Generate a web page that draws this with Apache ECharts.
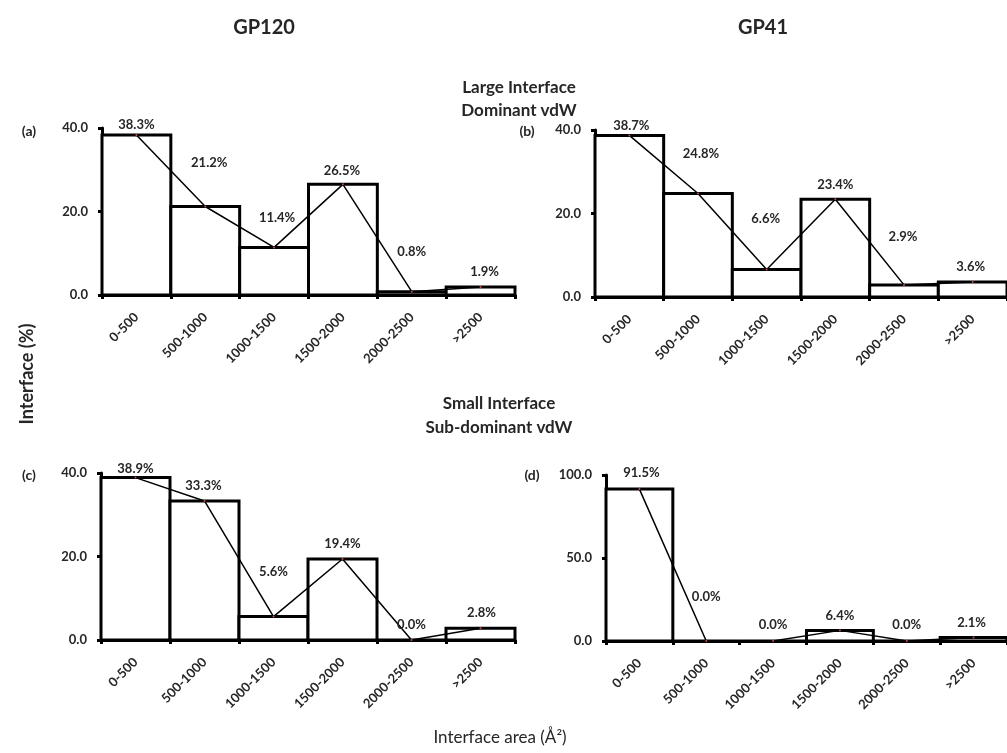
<!DOCTYPE html>
<html>
<head>
<meta charset="utf-8">
<script src="https://cdn.jsdelivr.net/npm/echarts@6/dist/echarts.min.js"></script>
<style>
  html, body { margin: 0; padding: 0; background: #fff; }
  #chart { width: 1007px; height: 753px; }
</style>
</head>
<body>
<div id="chart"></div>
<script>
// Interface area bins (Å²)
const categories = ['0-500', '500-1000', '1000-1500', '1500-2000', '2000-2500', '>2500'];

// Share of interfaces (%) in each bin
const gp120Large = [38.3, 21.2, 11.4, 26.5, 0.8, 1.9];
const gp41Large  = [38.7, 24.8, 6.6, 23.4, 2.9, 3.6];
const gp120Small = [38.9, 33.3, 5.6, 19.4, 0.0, 2.8];
const gp41Small  = [91.5, 0.0, 0.0, 6.4, 0.0, 2.1];

// Value axis ranges
const yMaxPct   = [40, 40, 40, 100];
const yStepPct  = [20, 20, 20, 50];

const panelTags = ['(a)', '(b)', '(c)', '(d)'];
const columnTitles = ['GP120', 'GP41'];
const rowTitles = [['Large Interface', 'Dominant vdW'], ['Small Interface', 'Sub-dominant vdW']];
const yTitle = 'Interface (%)';
const xTitle = 'Interface area (Å²)';

// ---- layout ----
const FONT = 'Lato, "Open Sans", sans-serif';
const TEXT = '#262626';
const grids = [
  { left: 102, top: 128, width: 413, height: 167 },
  { left: 595, top: 130, width: 414, height: 167 },
  { left: 101, top: 473, width: 414, height: 167 },
  { left: 606, top: 475, width: 403, height: 166 }
];
// label nudges (px) from each line point
const labelNudge = [
  [[0, -10], [4, -44], [3, -30], [-1, -14], [0, -40], [4, -15]],
  [[2, -10], [3, -40], [-1, -51], [0, -14], [-1, -48], [-2, -15]],
  [[0, -9], [-1, -15], [0, -45], [0, -15], [0, -15], [1, -15]],
  [[2, -16], [0, -44], [0, -16], [0, -15], [0, -16], [-2, -15]]
];

const panels = [gp120Large, gp41Large, gp120Small, gp41Small];

const chart = echarts.init(document.getElementById('chart'), null, { renderer: 'canvas' });

// Histogram column: full-width box whose outline is centred on the bin edges,
// so neighbouring columns share one border.
function renderColumn(params, api) {
  const idx = api.value(0);
  const val = api.value(1);
  const top = api.coord([idx, val]);
  const base = api.coord([idx, 0]);
  const w = api.size([1, 0])[0];
  return {
    type: 'rect',
    shape: { x: top[0] - w / 2, y: top[1], width: w, height: base[1] - top[1] },
    style: { fill: '#fff', stroke: '#000', lineWidth: 3 }
  };
}

const xAxes = [], yAxes = [], series = [];
panels.forEach((vals, i) => {
  xAxes.push({
    type: 'category', gridIndex: i, data: categories,
    axisLine: { lineStyle: { color: '#000', width: 3 } },
    axisTick: { show: true, alignWithLabel: false, length: 4, lineStyle: { color: '#000', width: 3 } },
    axisLabel: { rotate: 45, margin: 20, color: TEXT, fontFamily: FONT, fontWeight: 'bold', fontSize: 13, interval: 0 }
  });
  yAxes.push({
    type: 'value', gridIndex: i, min: 0, max: yMaxPct[i], interval: yStepPct[i],
    axisLine: { show: true, lineStyle: { color: '#000', width: 3 } },
    axisTick: { show: true, length: 4, lineStyle: { color: '#000', width: 3 } },
    splitLine: { show: false },
    axisLabel: { margin: 14, color: TEXT, fontFamily: FONT, fontWeight: 'bold', fontSize: 13,
                 formatter: v => v.toFixed(1) }
  });
  series.push({
    type: 'custom', xAxisIndex: i, yAxisIndex: i, z: 2,
    data: vals.map((v, j) => [j, v]),
    encode: { x: 0, y: 1 },
    renderItem: renderColumn
  });
  series.push({
    type: 'line', xAxisIndex: i, yAxisIndex: i, z: 5,
    data: vals.map((v, j) => ({
      value: v,
      label: { offset: labelNudge[i][j] }
    })),
    symbol: 'circle', symbolSize: 2,
    itemStyle: { color: '#c05050' },
    lineStyle: { color: '#000', width: 1.5 },
    label: {
      show: true, position: 'inside',
      formatter: p => p.value.toFixed(1) + '%',
      color: TEXT, fontFamily: FONT, fontWeight: 'bold', fontSize: 13
    }
  });
});

function txt(x, y, text, size, weight, extra) {
  return Object.assign({
    type: 'text', x: x, y: y, silent: true,
    style: { text: text, fill: TEXT, font: `${weight} ${size}px ${FONT}`,
             align: 'center', verticalAlign: 'middle' }
  }, extra || {});
}

const graphics = [
  txt(264, 28, columnTitles[0], 20, 'bold'),
  txt(763, 28, columnTitles[1], 20, 'bold'),
  txt(519, 88, rowTitles[0][0], 17, 'bold'),
  txt(519, 111, rowTitles[0][1], 17, 'bold'),
  txt(499, 404, rowTitles[1][0], 17, 'bold'),
  txt(499, 428, rowTitles[1][1], 17, 'bold'),
  txt(500, 738, xTitle, 17, 'normal'),
  txt(27, 374, yTitle, 18, 'bold', { rotation: Math.PI / 2 }),
  txt(29, 131, panelTags[0], 14, 'bold'),
  txt(527, 131, panelTags[1], 14, 'bold'),
  txt(29, 475, panelTags[2], 14, 'bold'),
  txt(532, 475, panelTags[3], 14, 'bold')
];

chart.setOption({
  animation: false,
  backgroundColor: '#fff',
  grid: grids.map(g => Object.assign({ containLabel: false }, g)),
  xAxis: xAxes,
  yAxis: yAxes,
  series: series,
  graphic: graphics
});
</script>
</body>
</html>
